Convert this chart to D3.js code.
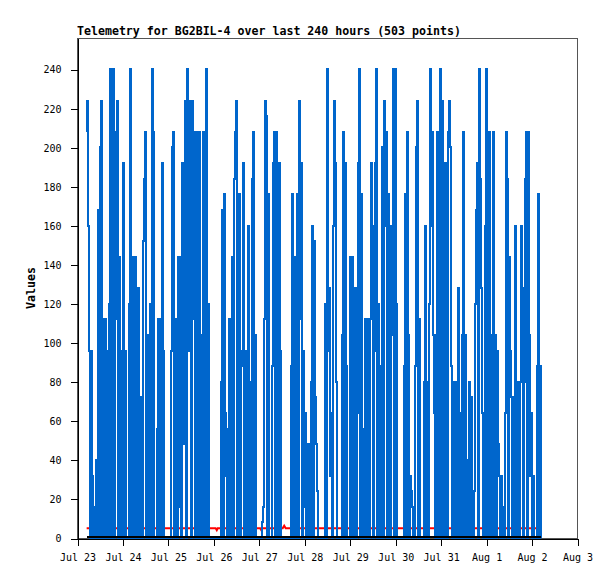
<!DOCTYPE html>
<html>
<head>
<meta charset="utf-8">
<script src="https://cdn.jsdelivr.net/npm/d3@7"></script>
<style>
  body { margin: 0; background: #fff; }
  text { font-family: "DejaVu Sans Mono", monospace; }
</style>
</head>
<body>
<div id="chart"></div>
<script>
// telemetry chart, values

var titleText = "Telemetry for BG2BIL-4 over last 240 hours (503 points)";
var yLabel = "Values";

var dayStart = Date.UTC(2024, 6, 23);   // Jul 23 00:00
var dayEnd = Date.UTC(2024, 7, 3);      // Aug 3 00:00
var firstHour = 5.1;                    // first sample, hours after Jul 23 00:00
var spanHours = 240;

var yTicks = [0, 20, 40, 60, 80, 100, 120, 140, 160, 180, 200, 220, 240];

// blue series, in time order
var blueValues = [
  208, 224, 160, 96, 0, 96, 32, 0, 16, 0,
  40, 0, 168, 0, 200, 224, 0, 112, 0, 112,
  0, 96, 0, 120, 240, 0, 216, 240, 0, 208,
  112, 224, 0, 144, 32, 0, 96, 192, 0, 96,
  0, 0, 0, 120, 240, 0, 144, 0, 136, 144,
  0, 72, 128, 0, 64, 72, 0, 152, 184, 208,
  0, 104, 0, 0, 120, 0, 240, 208, 0, 0,
  0, 56, 112, 0, 112, 0, 192, 96, 0, 0,
  0, 0, 0, 0, 0, 96, 200, 208, 0, 112,
  32, 0, 144, 16, 144, 0, 192, 48, 160, 224,
  0, 240, 208, 96, 224, 0, 224, 112, 208, 0,
  120, 208, 0, 208, 88,
  // Jul 25 .. Jul 27
  0, 104, 208, 0, 120, 240, 0, 120,
  0, 0, 0, 0, 0, 0, 0, 0, 0, 0, 0, 0,
  80, 168, 0, 176, 64, 32, 0, 56, 112, 0,
  72, 144, 0, 184, 208, 224, 0, 112, 176, 0,
  88, 96, 192, 0, 96, 0, 80, 160, 0, 80,
  0, 184, 208, 0, 104, 0,
  0, 0, 0, 0, 0,
  8, 16, 112, 224, 216, 0, 176, 0, 0, 0,
  88, 192, 208, 0, 208, 192, 0, 192, 96,
  0, 0, 0, 0, 0, 0, 0, 0, 0, 0,
  88, 176, 0, 88, 144, 0, 176, 0, 224, 112,
  192, 0, 96, 16, 64, 0, 32, 48, 0, 0,
  80, 160, 0, 152, 72, 48,
  // Jul 27 .. Jul 30
  24, 0, 0, 0, 0, 0, 0, 0,
  120, 0, 240, 96, 128, 32, 64, 0, 160, 224,
  192, 80, 0, 0, 0, 0, 0,
  104, 208, 0, 192, 88, 0, 0, 0,
  144, 0, 144, 64, 0, 128, 0, 64, 192, 240,
  0, 176, 40, 0, 56, 112, 0, 56, 112, 0,
  112, 192, 160, 0, 96, 192, 240, 0, 120, 0,
  0, 88, 200, 0, 224, 160, 208, 0, 176, 160,
  0, 104, 160, 240, 0, 240, 120,
  0, 0, 0, 0, 0, 0, 0,
  88, 176, 0, 208, 104, 0, 32, 24, 16, 0,
  0, 88, 200, 224, 0, 112, 0,
  0, 0, 0,
  80, 160, 0, 80, 0, 120, 240, 160, 208,
  // Jul 31 .. Aug 2
  104, 64, 0, 104, 208, 0, 88, 240, 0, 224,
  152, 0, 192, 96, 0, 208, 224, 200, 88, 0,
  80, 0, 80, 64, 0, 128, 64, 0, 0, 104,
  208, 0, 104, 0, 0, 40, 80, 0, 72, 24,
  0, 24, 120, 168, 192, 0, 240, 184, 128, 64,
  0, 0, 160, 240, 0, 168, 208, 0, 104, 0,
  208, 0, 104, 0, 96, 48, 32, 0, 32, 16,
  0, 0, 64, 208, 184, 0, 144, 96, 72, 0,
  72, 0, 160, 0, 80, 48, 0, 80, 160, 128,
  0, 80, 184, 208, 0, 208, 104, 32, 64, 0,
  32, 0, 0, 0, 88, 176, 0, 88, 0
];

// red series (hours after Jul 23 00:00, value)
var redHours = [5.1, 73.2, 73.8, 74.3, 96.7, 97.3, 97.8, 108.6, 109.4, 110.2, 245.1];
var redValues = [5, 5, 4, 5, 5, 4, 5, 5, 6.3, 5, 5];

var width = 615;
var height = 579;
var plotLeft = 77, plotRight = 577, plotTop = 38, plotBottom = 538;

var svg = d3.select("#chart").append("svg")
    .attr("width", width)
    .attr("height", height);

var hourMs = 3600 * 1000;
var x = d3.scaleUtc().domain([new Date(dayStart), new Date(dayEnd)]).range([plotLeft, plotRight]);
var y = d3.scaleLinear().domain([0, 256]).range([plotBottom, plotTop]);

var n = blueValues.length;
var blue = blueValues.map(function(v, i) {
    return { t: new Date(dayStart + (firstHour + i * spanHours / (n - 1)) * hourMs), v: v };
});
var red = redHours.map(function(h, i) {
    return { t: new Date(dayStart + h * hourMs), v: redValues[i] };
});

var line = d3.line()
    .x(function(d) { return x(d.t); })
    .y(function(d) { return y(d.v); });
var stepLine = d3.line()
    .curve(d3.curveStep)
    .x(function(d) { return x(d.t); })
    .y(function(d) { return y(d.v); });

// frame
svg.append("rect")
    .attr("x", plotLeft + 0.5).attr("y", plotTop + 0.5)
    .attr("width", plotRight - plotLeft).attr("height", plotBottom - plotTop)
    .attr("fill", "none").attr("stroke", "#555")
    .attr("shape-rendering", "crispEdges");

svg.append("path").attr("d", line(red))
    .attr("fill", "none").attr("stroke", "#ff0000").attr("stroke-width", 2);

svg.append("path").attr("d", stepLine(blue))
    .attr("fill", "none").attr("stroke", "#0066cc").attr("stroke-width", 2)
    .attr("shape-rendering", "crispEdges");

// black zero line along the data span
svg.append("line")
    .attr("x1", x(blue[0].t)).attr("x2", x(blue[n - 1].t))
    .attr("y1", y(0) - 1).attr("y2", y(0) - 1)
    .attr("stroke", "#000").attr("stroke-width", 2)
    .attr("shape-rendering", "crispEdges");

var yAxis = d3.axisLeft(y).tickValues(yTicks).tickSize(7).tickSizeOuter(0).tickPadding(9);
var xAxis = d3.axisBottom(x).ticks(d3.utcDay.every(1)).tickFormat(d3.utcFormat("%b %-d"))
    .tickSize(7).tickSizeOuter(0).tickPadding(8);

var gy = svg.append("g")
    .attr("transform", "translate(" + (plotLeft + 0.5) + ",0.5)")
    .call(yAxis);
var gx = svg.append("g")
    .attr("transform", "translate(0.5," + (plotBottom + 0.5) + ")")
    .call(xAxis);

[gx, gy].forEach(function(g) {
    g.attr("shape-rendering", "crispEdges");
    g.selectAll("path, line").attr("stroke", "#000");
    g.selectAll("text").attr("fill", "#000")
        .style("font-family", "'DejaVu Sans Mono', monospace").style("font-size", "10px");
});

svg.append("text")
    .attr("x", plotLeft).attr("y", 35)
    .style("font-size", "11.6px").style("font-weight", "bold")
    .text(titleText);

svg.append("text")
    .attr("transform", "translate(35," + ((plotTop + plotBottom) / 2) + ") rotate(-90)")
    .attr("text-anchor", "middle")
    .style("font-size", "11.6px").style("font-weight", "bold")
    .text(yLabel);
</script>
</body>
</html>
